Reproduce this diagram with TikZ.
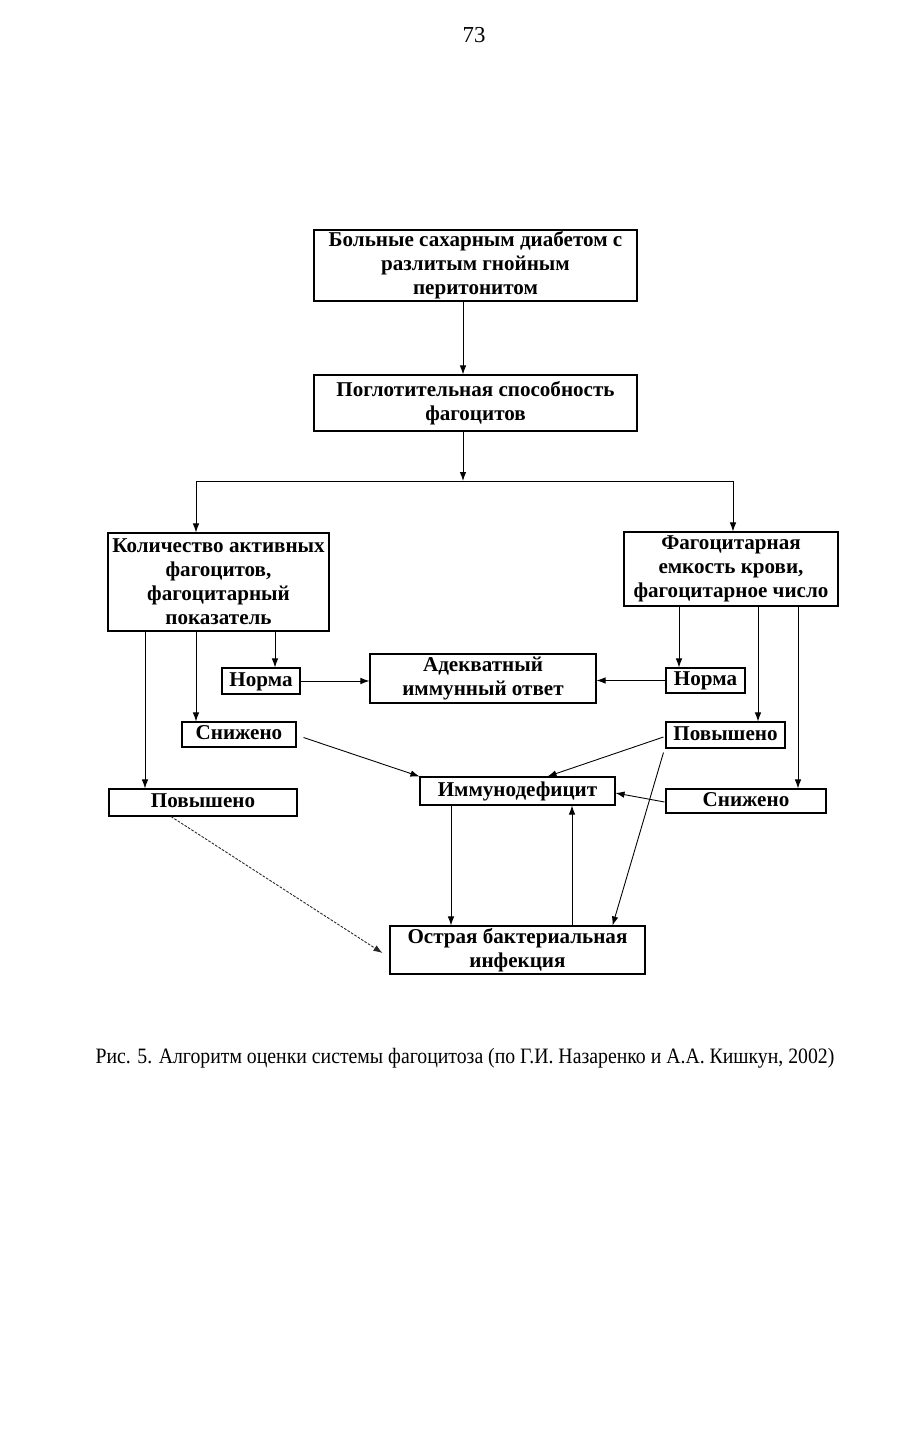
\documentclass[tikz,border=0pt]{standalone}
\usepackage{fontspec}
\setmainfont{Liberation Serif}
\usepackage{tikz}
\usetikzlibrary{positioning,arrows.meta,calc}
\tikzset{
  box/.style  = {draw, line width=0.6pt, align=center, inner sep=0pt,
                 font=\bfseries\fontsize{12}{13.6}\selectfont},
  onel/.style = {box, text height=1.6ex, text depth=0.25ex},
  sz/.style 2 args = {minimum width=#1*0.02cm, minimum height=#2*0.02cm},
  flow/.style = {-{Latex[length=1.8mm,width=1.3mm]}, line width=0.5pt},
  weak/.style = {flow, dash pattern=on 1.5pt off 0.8pt, draw=black!85},
}
\begin{document}
\begin{tikzpicture}[x=0.02cm,y=-0.02cm]
  \useasboundingbox (0,0) rectangle (913,1429);
  \node (pnum) at (474,35) {\fontsize{13}{15}\selectfont 73};

  \node[box, sz={323}{71}] (pat)    at (475.5,265.5) {Больные сахарным диабетом с\\разлитым гнойным\\перитонитом};
  \node[box, sz={323}{56}] (sposob) at (475.5,403)   {Поглотительная способность\\фагоцитов};
  \node[box, sz={221}{98}] (kolvo)  at (218.5,582)   {Количество активных\\фагоцитов,\\фагоцитарный\\показатель};
  \node[box, sz={214}{74}] (emkost) at (731,569)     {Фагоцитарная\\емкость крови,\\фагоцитарное число};
  \node[onel, sz={78}{26}]  (normaL) at (261,681)     {Норма};
  \node[box, sz={226}{49}] (adekv)  at (483,678.5)   {Адекватный\\иммунный ответ};
  \node[onel, sz={79}{25}]  (normaR) at (705.5,680.5) {Норма};
  \node[onel, sz={114}{25}] (snizL)  at (239,734.5)   {Снижено};
  \node[onel, sz={119}{26}] (povR)   at (725.5,735)   {Повышено};
  \node[onel, sz={195}{28}] (immuno) at (517.5,791)   {Иммунодефицит};
  \node[onel, sz={188}{27}] (povL)   at (203,802.5)   {Повышено};
  \node[onel, sz={160}{24}] (snizR)  at (746,801)     {Снижено};
  \node[box, sz={255}{48}] (ostr)   at (517.5,950)   {Острая бактериальная\\инфекция};

  \coordinate (sp)  at (463,481);
  \coordinate (brL) at (196,481);
  \coordinate (brR) at (733,481);
  \coordinate (cA) at (145,0);
  \coordinate (cB) at (196,0);
  \coordinate (cC) at (275,0);
  \coordinate (cD) at (679,0);
  \coordinate (cE) at (758,0);
  \coordinate (cF) at (798,0);
  \coordinate (cG) at (451,0);
  \coordinate (cH) at (572,0);

  \draw[flow] (pat.south -| sp) -- (sposob.north -| sp);
  \draw[flow] (sposob.south -| sp) -- (sp);
  \draw[line width=0.5pt] (brL) -- (brR);
  \draw[flow] (brL) -- (kolvo.north -| brL);
  \draw[flow] (brR) -- (emkost.north -| brR);

  \draw[flow] (kolvo.south -| cA) -- (povL.north -| cA);
  \draw[flow] (kolvo.south -| cB) -- (snizL.north -| cB);
  \draw[flow] (kolvo.south -| cC) -- (normaL.north -| cC);
  \draw[flow] (emkost.south -| cD) -- (normaR.north -| cD);
  \draw[flow] (emkost.south -| cE) -- (povR.north -| cE);
  \draw[flow] (emkost.south -| cF) -- (snizR.north -| cF);

  \draw[flow] (normaL.east) -- (normaL.east -| adekv.west);
  \draw[flow] (normaR.west) -- (normaR.west -| adekv.east);

  \draw[flow] ($(snizL.east)+(7,3)$) -- (immuno.north west);
  \draw[flow] ($(povR.west)+(-2,2)$) -- ($(immuno.north)+(30,0)$);
  \draw[flow] ($(snizR.west)+(-1,1)$) -- ($(immuno.east)+(0,2)$);
  \draw[flow] ($(povR.south west)+(-2,4)$) -- ($(ostr.north east)+(-33,0)$);
  \draw[flow] (immuno.south -| cG) -- (ostr.north -| cG);
  \draw[flow] (ostr.north -| cH) -- (immuno.south -| cH);
  \draw[weak] ($(povL.south)+(-32,0)$) -- ($(ostr.west)+(-7,3)$);

  \node[xscale=0.9, transform shape] (caption) at (465,1058) {\fontsize{12.5}{15}\selectfont Рис. 5. Алгоритм оценки системы фагоцитоза (по Г.И. Назаренко и А.А. Кишкун, 2002)};
\end{tikzpicture}
\end{document}
